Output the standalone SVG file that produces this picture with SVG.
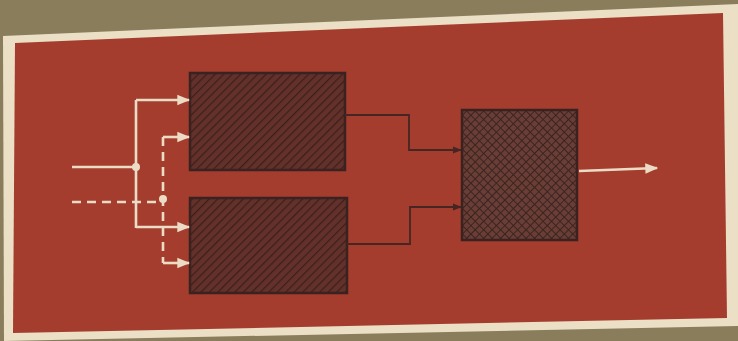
<svg xmlns="http://www.w3.org/2000/svg" width="738" height="341" viewBox="0 0 738 341">
  <defs>
    <pattern id="hatch" patternUnits="userSpaceOnUse" width="6" height="6" patternTransform="rotate(45)">
      <rect width="6" height="6" fill="#64302a"/>
      <line x1="0" y1="0" x2="0" y2="6" stroke="#3a201d" stroke-width="2.5"/>
    </pattern>
    <pattern id="cross" patternUnits="userSpaceOnUse" width="6" height="6" patternTransform="rotate(45)">
      <rect width="6" height="6" fill="#6a3e36"/>
      <line x1="0" y1="0" x2="0" y2="6" stroke="#3a2420" stroke-width="2"/>
      <line x1="0" y1="0" x2="6" y2="0" stroke="#3a2420" stroke-width="2"/>
    </pattern>
    <marker id="aw" viewBox="0 0 10 10" refX="9" refY="5" markerWidth="5" markerHeight="5" orient="auto" markerUnits="strokeWidth">
      <path d="M0,1 L10,5 L0,9 Z" fill="#ecdcc6"/>
    </marker>
    <marker id="ad" viewBox="0 0 10 10" refX="9" refY="5" markerWidth="5" markerHeight="5" orient="auto" markerUnits="strokeWidth">
      <path d="M0,1 L10,5 L0,9 Z" fill="#452622"/>
    </marker>
    <style>
      .blk { stroke: #3a2220; stroke-width: 2.5; }
      .wl { fill: none; stroke: #ecdcc6; stroke-width: 2.6; }
      .dl { fill: none; stroke: #ecdcc6; stroke-width: 2.6; stroke-dasharray: 9 6; }
      .kl { fill: none; stroke: #452622; stroke-width: 1.8; }
    </style>
  </defs>
  <rect width="738" height="341" fill="#8a7d5c"/>
  <polygon points="3,36 738,4 738,326 4,341" fill="#ebdfc6"/>
  <polygon points="15,43 723,13 727,318 13,333" fill="#a43d2e"/>

  <g id="box1"><rect class="blk" x="190" y="73" width="155" height="97" fill="url(#hatch)"/></g>
  <g id="box2"><rect class="blk" x="190" y="198" width="157" height="95" fill="url(#hatch)"/></g>
  <g id="box3"><rect class="blk" x="462" y="110" width="115" height="130" fill="url(#cross)"/></g>

  <g id="connectors">
    <path class="wl" d="M72,167 H136"/>
    <path class="wl" d="M136,100 V228"/>
    <path class="wl" d="M136,100 H189" marker-end="url(#aw)"/>
    <path class="wl" d="M136,227 H189" marker-end="url(#aw)"/>
    <circle cx="136" cy="167" r="4" fill="#ecdcc6"/>
    <path class="dl" d="M72,202 H163"/>
    <path class="dl" d="M163,137 V263"/>
    <path class="wl" d="M163,137 H189" marker-end="url(#aw)"/>
    <path class="wl" d="M163,263 H189" marker-end="url(#aw)"/>
    <circle cx="163" cy="199" r="4" fill="#ecdcc6"/>
    <path class="kl" d="M345,115 H409 V150 H461" marker-end="url(#ad)"/>
    <path class="kl" d="M347,244 H410 V207 H461" marker-end="url(#ad)"/>
    <path class="wl" d="M579,171 L657,168" marker-end="url(#aw)"/>
  </g>
</svg>
